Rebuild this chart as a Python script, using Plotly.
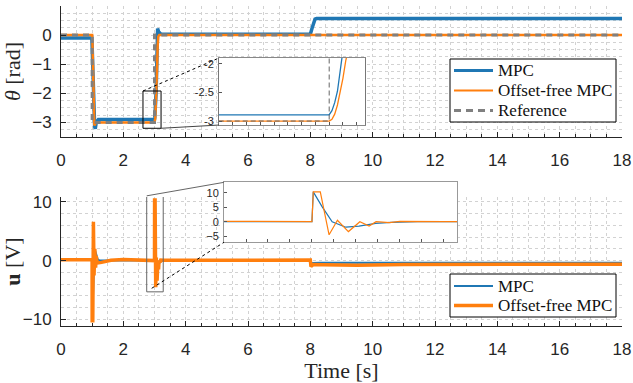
import plotly.graph_objects as go

# ---------------- data ----------------
# angle theta [rad]
theta_t_mpc = [0, 0.99, 1.0, 1.02, 1.05, 1.08, 1.1, 1.13, 1.2, 3.0, 3.01, 3.02, 3.03, 3.04,
               3.05, 3.06, 3.07, 3.08, 3.09, 3.1, 3.13, 3.2, 3.3, 8.0, 8.05, 8.1, 8.15, 8.2, 18]
theta_mpc = [-0.1, -0.1, -0.4, -1.4, -2.6, -3.15, -3.22, -3.0, -2.9, -2.89, -2.82, -2.68, -2.48, -2.25,
             -2.0, -1.6, -1.05, -0.4, 0.15, 0.23, 0.12, 0.04, 0.03, 0.03, 0.22, 0.45, 0.55, 0.57, 0.57]

theta_t_off = [0, 1.0, 1.01, 1.03, 1.05, 1.07, 1.1, 1.15, 3.0, 3.01, 3.02, 3.03, 3.04, 3.05,
               3.06, 3.08, 3.1, 3.12, 3.15, 18]
theta_off = [0, 0, -0.3, -1.5, -2.7, -3.1, -3.05, -3.0, -3.0, -2.97, -2.88, -2.72, -2.5, -2.25,
             -1.95, -1.2, -0.4, -0.05, 0, 0]

ref_t = [0, 1.0, 1.0, 3.0, 3.0, 18]
ref_val = [0, 0, -3, -3, 0, 0]

# input voltage u [V]
u_t_mpc = [0, 0.998, 1.0, 1.023, 1.046, 1.077, 1.107, 1.145, 1.18, 1.24, 3.0, 3.003, 3.023,
           3.046, 3.077, 3.107, 3.145, 3.18, 3.24, 8.0, 8.02, 8.08, 8.3, 18]
u_mpc = [0.2, 0.2, -10.2, -5.2, 0, 1.9, 1.5, 0.6, 0.2, 0.0, 0.0, 10.3, 5.2,
         0, -1.9, -1.5, -0.6, -0.2, 0.0, 0.0, -0.8, -0.4, -0.38, -0.38]

u_t_off = [0, 0.998, 1.0, 1.02, 1.04, 1.06, 1.085, 1.11, 1.13, 1.16, 1.3, 1.6, 2.0, 2.8, 2.998,
           3.0, 3.003, 3.019, 3.039, 3.058, 3.083, 3.109, 3.13, 3.146, 3.176, 3.2, 3.3, 5.0,
           8.0, 8.02, 8.1, 8.4, 9.5, 11.0, 13, 18]
u_off = [0.15, 0.15, -10.2, -10.2, 6.6, -2.5, 2.0, -1.2, 0.8, -0.4, -0.3, 0.05, 0.2, 0.15, 0.0,
         0.0, 10.3, 10.3, -4.5, 0.5, -3.4, 0.0, -1.5, 0.0, -0.3, 0.1, 0.05, 0.1,
         0.1, -1.0, -0.65, -0.7, -0.8, -0.65, -0.6, -0.6]

x_ticks = [0, 2, 4, 6, 8, 10, 12, 14, 16, 18]
legend_top = ["MPC", "Offset-free MPC", "Reference"]
legend_bottom = ["MPC", "Offset-free MPC"]

# ---------------- layout geometry ----------------
BLUE = "#1f77b4"
ORANGE = "#ff7f0e"
GRAY = "#808080"
AX = "#262626"
GRID = "#d2d2d2"
SANS = "Liberation Sans, Arial, sans-serif"
SERIF = "Liberation Serif, Times New Roman, serif"

W, H = 633, 383
ML, MR, MT, MB = 61, 11, 6, 57

X_RANGE = [0, 18]
Y1_RANGE = [-3.5, 1]
Y2_RANGE = [-11.1, 10.8]
Y1_DOM = [0.5906, 1.0]
Y2_DOM = [0.0, 0.4031]

IN1_X, IN1_Y = [2.6, 3.13], [-3.07, -1.9]          # top inset ranges
IN2_X, IN2_Y = [2.8, 3.33], [-7.1, 13.6]           # bottom inset ranges
IN1_XD, IN1_YD = [0.2816, 0.5419], [0.628, 0.8375]
IN2_XD, IN2_YD = [0.2906, 0.7059], [0.2616, 0.449]
BOX1 = dict(x0=2.63, x1=3.21, y0=-3.2, y1=-1.92)   # zoom window in top axes
BOX2 = dict(x0=2.75, x1=3.28, y0=-5.3, y1=11.0)    # zoom window in bottom axes


def px(t):
    return (t - X_RANGE[0]) / (X_RANGE[1] - X_RANGE[0])


def py(v, rng, dom):
    return dom[0] + (v - rng[0]) / (rng[1] - rng[0]) * (dom[1] - dom[0])


def pxp(pix):  # pixel column -> paper x
    return (pix - ML) / (W - ML - MR)


def pyp(pix):  # pixel row -> paper y
    return (H - MB - pix) / (H - MT - MB)


fig = go.Figure()

# top main
fig.add_trace(go.Scatter(x=theta_t_mpc, y=theta_mpc, mode="lines", name="MPC", showlegend=False,
                         line=dict(color=BLUE, width=3.5), xaxis="x", yaxis="y"))
fig.add_trace(go.Scatter(x=theta_t_off, y=theta_off, mode="lines", name="Offset-free MPC",
                         showlegend=False, line=dict(color=ORANGE, width=2.5), xaxis="x", yaxis="y"))
fig.add_trace(go.Scatter(x=ref_t, y=ref_val, mode="lines", name="Reference", showlegend=False,
                         line=dict(color=GRAY, width=3, dash="6px,5px"), xaxis="x", yaxis="y"))
# bottom main
fig.add_trace(go.Scatter(x=u_t_mpc, y=u_mpc, mode="lines", name="MPC", showlegend=False,
                         line=dict(color=BLUE, width=2), xaxis="x2", yaxis="y2"))
fig.add_trace(go.Scatter(x=u_t_off, y=u_off, mode="lines", name="Offset-free MPC", showlegend=False,
                         line=dict(color=ORANGE, width=3.5), xaxis="x2", yaxis="y2"))
# top inset
fig.add_trace(go.Scatter(x=theta_t_mpc, y=theta_mpc, mode="lines", showlegend=False,
                         line=dict(color=BLUE, width=1.3), xaxis="x3", yaxis="y3"))
fig.add_trace(go.Scatter(x=theta_t_off, y=theta_off, mode="lines", showlegend=False,
                         line=dict(color=ORANGE, width=1.3), xaxis="x3", yaxis="y3"))
fig.add_trace(go.Scatter(x=ref_t, y=ref_val, mode="lines", showlegend=False,
                         line=dict(color="#666666", width=1, dash="5px,3px"), xaxis="x3", yaxis="y3"))
# bottom inset
fig.add_trace(go.Scatter(x=u_t_mpc, y=u_mpc, mode="lines", showlegend=False,
                         line=dict(color=BLUE, width=1.2), xaxis="x4", yaxis="y4"))
fig.add_trace(go.Scatter(x=u_t_off, y=u_off, mode="lines", showlegend=False,
                         line=dict(color=ORANGE, width=1.2), xaxis="x4", yaxis="y4"))

main_x = dict(range=X_RANGE, tickvals=x_ticks, ticks="inside", ticklen=5, tickcolor=AX,
              showline=True, linecolor=AX, linewidth=1, showgrid=True, gridcolor=GRID,
              griddash="dot", gridwidth=1, zeroline=False, automargin=False,
              tickfont=dict(family=SANS, size=17, color=AX), ticklabelstandoff=8,
              minor=dict(dtick=0.5, tick0=0, ticks="inside", ticklen=3, tickcolor=AX,
                         showgrid=True, gridcolor=GRID, griddash="dot", gridwidth=1))

fig.update_layout(
    width=W, height=H,
    margin=dict(l=ML, r=MR, t=MT, b=MB),
    paper_bgcolor="white", plot_bgcolor="white",
    showlegend=False,
    xaxis=dict(main_x, domain=[0, 1], anchor="y"),
    yaxis=dict(domain=Y1_DOM, anchor="x", range=Y1_RANGE, tickvals=[-3, -2, -1, 0, 1],
               ticks="inside", ticklen=5, tickcolor=AX, showline=True, linecolor=AX,
               showgrid=True, gridcolor=GRID, griddash="dot", zeroline=False, automargin=False,
               tickfont=dict(family=SANS, size=17, color=AX), ticklabelstandoff=5,
               minor=dict(dtick=0.25, tick0=0, ticks="", showgrid=True, gridcolor=GRID,
                          griddash="dot"),
               title=dict(text="<i>θ</i> [rad]", font=dict(family=SERIF, size=22, color=AX),
                          standoff=7)),
    xaxis2=dict(main_x, domain=[0, 1], anchor="y2",
                title=dict(text="Time [s]", font=dict(family=SERIF, size=22, color=AX),
                           standoff=3)),
    yaxis2=dict(domain=Y2_DOM, anchor="x2", range=Y2_RANGE, tickvals=[-10, 0, 10],
                ticks="inside", ticklen=5, tickcolor=AX, showline=True, linecolor=AX,
                showgrid=True, gridcolor=GRID, griddash="dot", zeroline=False, automargin=False,
                tickfont=dict(family=SANS, size=17, color=AX), ticklabelstandoff=5,
                minor=dict(dtick=2, tick0=0, ticks="", showgrid=True, gridcolor=GRID,
                           griddash="dot"),
                title=dict(text="<b>u</b> [V]", font=dict(family=SERIF, size=22, color=AX),
                           standoff=4)),
    xaxis3=dict(domain=IN1_XD, anchor="y3", range=IN1_X, showticklabels=False, ticks="inside",
                ticklen=3, dtick=0.05, tickcolor="#555", showline=True, mirror=True,
                linecolor="#888", showgrid=False, zeroline=False),
    yaxis3=dict(domain=IN1_YD, anchor="x3", range=IN1_Y, tickvals=[-3, -2.5, -2],
                ticktext=["-3", "-2.5", "-2"], ticks="inside", ticklen=3, tickcolor="#555",
                showline=True, mirror=True, linecolor="#777", showgrid=False, zeroline=False,
                tickfont=dict(family=SANS, size=11, color=AX), ticklabelstandoff=2),
    xaxis4=dict(domain=IN2_XD, anchor="y4", range=IN2_X, showticklabels=False, ticks="inside",
                ticklen=3, dtick=0.05, tickcolor="#555", showline=True, mirror=True,
                linecolor="#999", showgrid=False, zeroline=False),
    yaxis4=dict(domain=IN2_YD, anchor="x4", range=IN2_Y, tickvals=[-5, 0, 5, 10],
                ticks="inside", ticklen=3, tickcolor="#555", showline=True, mirror=True,
                linecolor="#999", showgrid=False, zeroline=False,
                tickfont=dict(family=SANS, size=11, color=AX), ticklabelstandoff=2),
)

shapes = [
    dict(type="rect", xref="x", yref="y", line=dict(color="black", width=1), **BOX1),
    dict(type="rect", xref="x2", yref="y2", line=dict(color="#666", width=1), **BOX2),
    # connectors, top
    dict(type="line", xref="paper", yref="paper",
         x0=px(BOX1["x0"]), y0=py(BOX1["y1"], Y1_RANGE, Y1_DOM), x1=IN1_XD[0], y1=IN1_YD[1],
         line=dict(color="black", width=1, dash="dot")),
    dict(type="line", xref="paper", yref="paper",
         x0=px(BOX1["x1"]), y0=py(BOX1["y0"], Y1_RANGE, Y1_DOM), x1=IN1_XD[0], y1=IN1_YD[0],
         line=dict(color="#444", width=1)),
    # connectors, bottom
    dict(type="line", xref="paper", yref="paper",
         x0=px(BOX2["x0"]), y0=py(BOX2["y1"], Y2_RANGE, Y2_DOM), x1=IN2_XD[0], y1=IN2_YD[1],
         line=dict(color="#666", width=1)),
    dict(type="line", xref="paper", yref="paper",
         x0=px(2.91), y0=py(-4.7, Y2_RANGE, Y2_DOM), x1=IN2_XD[0], y1=IN2_YD[0],
         line=dict(color="black", width=1, dash="dot")),
]

annotations = []


def add_legend(box, rows, labels, styles):
    x0, x1, y0, y1 = box
    shapes.append(dict(type="rect", xref="paper", yref="paper", layer="above",
                       x0=pxp(x0), x1=pxp(x1), y0=pyp(y1), y1=pyp(y0),
                       fillcolor="white", line=dict(color="black", width=1)))
    for row, lab, st in zip(rows, labels, styles):
        shapes.append(dict(type="line", xref="paper", yref="paper", layer="above",
                           x0=pxp(x0 + 4), x1=pxp(x0 + 43), y0=pyp(row), y1=pyp(row),
                           line=st))
        annotations.append(dict(xref="paper", yref="paper", x=pxp(x0 + 46), y=pyp(row),
                                xanchor="left", yanchor="middle", showarrow=False, text=lab,
                                font=dict(family=SERIF, size=17, color="#111")))


add_legend((450, 616, 59, 122), [70.5, 90.5, 110.5], legend_top,
           [dict(color=BLUE, width=3), dict(color=ORANGE, width=2),
            dict(color=GRAY, width=3, dash="7px,5px")])
add_legend((450, 616, 274, 317), [286, 305.5], legend_bottom,
           [dict(color=BLUE, width=2), dict(color=ORANGE, width=3.5)])

fig.update_layout(shapes=shapes, annotations=annotations)

fig.write_html("out.html", config={"displayModeBar": False},
               post_script="document.body.style.margin='0';")
